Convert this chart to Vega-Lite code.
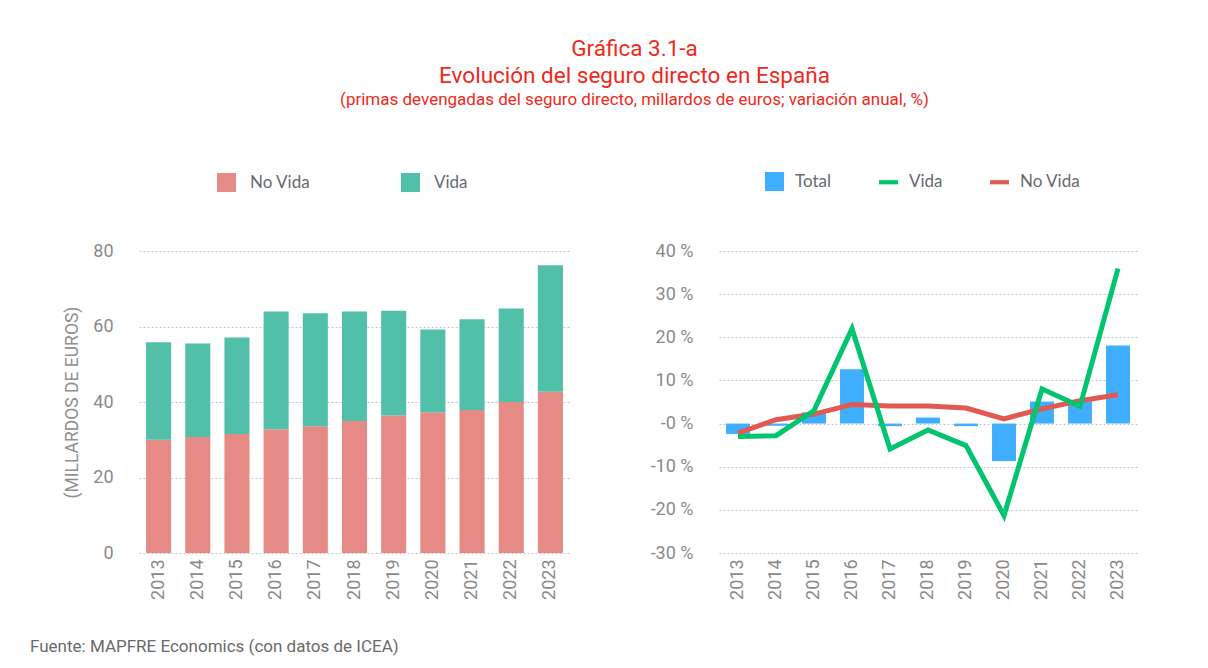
{
  "$schema": "https://vega.github.io/schema/vega-lite/v6.json",
  "background": "white",
  "padding": {"left": 30, "top": 37, "right": 40, "bottom": 10},
  "title": {
    "text": ["Gráfica 3.1-a", "Evolución del seguro directo en España"],
    "subtitle": "(primas devengadas del seguro directo, millardos de euros; variación anual, %)",
    "color": "#f0281a",
    "subtitleColor": "#f0281a",
    "font": "Roboto",
    "subtitleFont": "Roboto",
    "fontSize": 22.5,
    "subtitleFontSize": 17,
    "fontWeight": "normal",
    "subtitleFontWeight": "normal",
    "lineHeight": 27,
    "subtitleLineHeight": 24,
    "subtitlePadding": 5,
    "anchor": "middle",
    "offset": 64
  },
  "datasets": {
    "primas": [
      {"year": "2013", "tipo": "No Vida", "valor": 30.0},
      {"year": "2013", "tipo": "Vida", "valor": 25.8},
      {"year": "2014", "tipo": "No Vida", "valor": 30.7},
      {"year": "2014", "tipo": "Vida", "valor": 24.8},
      {"year": "2015", "tipo": "No Vida", "valor": 31.5},
      {"year": "2015", "tipo": "Vida", "valor": 25.6},
      {"year": "2016", "tipo": "No Vida", "valor": 32.8},
      {"year": "2016", "tipo": "Vida", "valor": 31.2},
      {"year": "2017", "tipo": "No Vida", "valor": 33.6},
      {"year": "2017", "tipo": "Vida", "valor": 29.9},
      {"year": "2018", "tipo": "No Vida", "valor": 35.0},
      {"year": "2018", "tipo": "Vida", "valor": 29.0},
      {"year": "2019", "tipo": "No Vida", "valor": 36.4},
      {"year": "2019", "tipo": "Vida", "valor": 27.8},
      {"year": "2020", "tipo": "No Vida", "valor": 37.3},
      {"year": "2020", "tipo": "Vida", "valor": 21.9},
      {"year": "2021", "tipo": "No Vida", "valor": 37.9},
      {"year": "2021", "tipo": "Vida", "valor": 24.0},
      {"year": "2022", "tipo": "No Vida", "valor": 40.0},
      {"year": "2022", "tipo": "Vida", "valor": 24.8},
      {"year": "2023", "tipo": "No Vida", "valor": 42.7},
      {"year": "2023", "tipo": "Vida", "valor": 33.5}
    ],
    "variacion": [
      {"year": "2013", "serie": "Total", "valor": -2.4},
      {"year": "2014", "serie": "Total", "valor": -0.5},
      {"year": "2015", "serie": "Total", "valor": 2.6},
      {"year": "2016", "serie": "Total", "valor": 12.6},
      {"year": "2017", "serie": "Total", "valor": -0.6},
      {"year": "2018", "serie": "Total", "valor": 1.4},
      {"year": "2019", "serie": "Total", "valor": -0.6},
      {"year": "2020", "serie": "Total", "valor": -8.7},
      {"year": "2021", "serie": "Total", "valor": 5.1},
      {"year": "2022", "serie": "Total", "valor": 5.2},
      {"year": "2023", "serie": "Total", "valor": 18.1},
      {"year": "2013", "serie": "Vida", "valor": -3.0},
      {"year": "2014", "serie": "Vida", "valor": -2.8},
      {"year": "2015", "serie": "Vida", "valor": 3.0},
      {"year": "2016", "serie": "Vida", "valor": 22.0},
      {"year": "2017", "serie": "Vida", "valor": -5.9},
      {"year": "2018", "serie": "Vida", "valor": -1.5},
      {"year": "2019", "serie": "Vida", "valor": -5.1},
      {"year": "2020", "serie": "Vida", "valor": -21.3},
      {"year": "2021", "serie": "Vida", "valor": 8.0},
      {"year": "2022", "serie": "Vida", "valor": 4.0},
      {"year": "2023", "serie": "Vida", "valor": 35.9},
      {"year": "2013", "serie": "No Vida", "valor": -2.2},
      {"year": "2014", "serie": "No Vida", "valor": 0.9},
      {"year": "2015", "serie": "No Vida", "valor": 2.2},
      {"year": "2016", "serie": "No Vida", "valor": 4.4},
      {"year": "2017", "serie": "No Vida", "valor": 4.1},
      {"year": "2018", "serie": "No Vida", "valor": 4.1},
      {"year": "2019", "serie": "No Vida", "valor": 3.6},
      {"year": "2020", "serie": "No Vida", "valor": 1.1},
      {"year": "2021", "serie": "No Vida", "valor": 3.4},
      {"year": "2022", "serie": "No Vida", "valor": 5.3},
      {"year": "2023", "serie": "No Vida", "valor": 6.7}
    ],
    "fuente": [
      {"texto": "Fuente: MAPFRE Economics (con datos de ICEA)"}
    ]
  },
  "vconcat": [
    {
      "hconcat": [
        {
          "width": 431,
          "height": 302,
          "data": {"name": "primas"},
          "mark": {"type": "bar"},
          "encoding": {
            "x": {
              "field": "year",
              "type": "ordinal",
              "scale": {"paddingInner": 0.36, "paddingOuter": 0.18},
              "axis": {"title": null, "labelAngle": -90, "labelPadding": 6, "grid": false}
            },
            "y": {
              "field": "valor",
              "type": "quantitative",
              "stack": "zero",
              "scale": {"domain": [0, 80], "nice": false},
              "axis": {
                "values": [0, 20, 40, 60, 80],
                "title": "(MILLARDOS DE EUROS)",
                "titleFont": "Roboto",
                "titleFontSize": 17.5,
                "titleFontWeight": "normal",
                "titleColor": "#8f8f8f",
                "titlePadding": 11,
                "labelPadding": 26
              }
            },
            "order": {"field": "tipo", "type": "nominal", "sort": "ascending"},
            "color": {
              "field": "tipo",
              "type": "nominal",
              "scale": {"domain": ["No Vida", "Vida"], "range": ["#e58a84", "#52c0a8"]},
              "legend": {
                "orient": "none",
                "legendX": 77,
                "legendY": -79,
                "title": null,
                "direction": "horizontal",
                "symbolType": "square",
                "symbolSize": 361,
                "columnPadding": 89,
                "labelOffset": 13
              }
            }
          }
        },
        {
          "width": 418,
          "height": 302,
          "data": {"name": "variacion"},
          "encoding": {
            "x": {
              "field": "year",
              "type": "ordinal",
              "scale": {"paddingInner": 0.37, "paddingOuter": 0.185},
              "axis": {"title": null, "labelAngle": -90, "labelPadding": 6, "grid": false}
            },
            "y": {
              "field": "valor",
              "type": "quantitative",
              "scale": {"domain": [-30, 40], "nice": false},
              "axis": {
                "values": [-30, -20, -10, 0, 10, 20, 30, 40],
                "title": null,
                "labelPadding": 26,
                "labelExpr": "datum.value === 0 ? '-0 %' : datum.value + ' %'"
              }
            },
            "color": {
              "field": "serie",
              "type": "nominal",
              "scale": {"domain": ["Total", "Vida", "No Vida"], "range": ["#40aeff", "#00c46e", "#e05a52"]},
              "legend": {
                "orient": "none",
                "legendX": 46,
                "legendY": -79,
                "title": null,
                "direction": "horizontal",
                "symbolSize": 361,
                "columnPadding": 47,
                "labelOffset": 11,
                "encode": {
                  "symbols": {
                    "update": {
                      "shape": {"signal": "datum.value === 'Total' ? 'square' : 'M-1,-1M-1,-0.22H1V0.22H-1Z'"},
                      "fill": {"signal": "datum.value === 'Total' ? '#40aeff' : datum.value === 'Vida' ? '#00c46e' : '#e05a52'"},
                      "stroke": {"value": "transparent"},
                      "strokeWidth": {"value": 0},
                      "opacity": {"value": 1}
                    }
                  }
                }
              }
            }
          },
          "layer": [
            {
              "transform": [{"filter": "datum.serie === 'Total'"}],
              "mark": {"type": "bar"}
            },
            {
              "transform": [{"filter": "datum.serie === 'No Vida'"}],
              "mark": {"type": "line", "strokeWidth": 5, "strokeJoin": "miter"}
            },
            {
              "transform": [{"filter": "datum.serie === 'Vida'"}],
              "mark": {"type": "line", "strokeWidth": 5, "strokeJoin": "miter"}
            }
          ]
        }
      ],
      "spacing": 80,
      "resolve": {"scale": {"color": "independent", "x": "independent", "y": "independent"}, "legend": {"color": "independent"}}
    },
    {
      "width": 1100,
      "height": 20,
      "data": {"name": "fuente"},
      "mark": {"type": "text", "align": "left", "baseline": "middle", "dx": -109, "font": "Roboto", "fontSize": 17, "color": "#6a6a6a"},
      "encoding": {
        "x": {"datum": 0, "type": "quantitative", "scale": {"domain": [0, 1]}, "axis": null},
        "text": {"field": "texto"}
      }
    }
  ],
  "spacing": 37,
  "config": {
    "view": {"stroke": null},
    "axis": {
      "domain": false,
      "ticks": false,
      "tickSize": 0,
      "labelFont": "Roboto",
      "labelFontSize": 18,
      "labelColor": "#8a8a8a",
      "gridColor": "#c4c4c4",
      "gridDash": [2, 2],
      "gridWidth": 1
    },
    "legend": {
      "labelFont": "Lato",
      "labelFontSize": 17,
      "labelColor": "#666a70"
    }
  }
}
